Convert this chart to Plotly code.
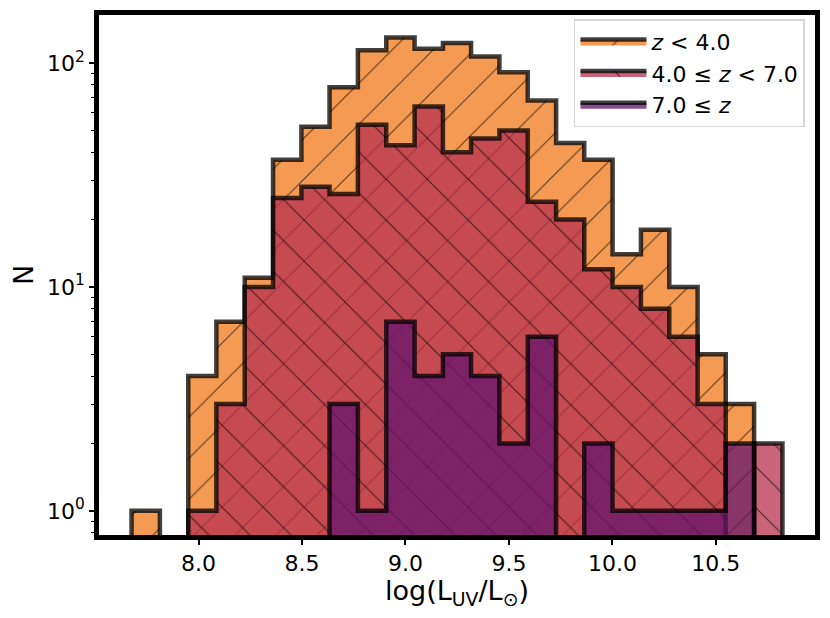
import math
import plotly.graph_objects as go

# histogram bins (log L_UV) shared by all three redshift groups
bin_edges = [7.676, 7.813, 7.950, 8.086, 8.223, 8.360, 8.497, 8.633, 8.770, 8.907,
             9.044, 9.181, 9.317, 9.454, 9.591, 9.728, 9.864, 10.001, 10.138, 10.275,
             10.412, 10.548, 10.685, 10.822]

# counts per bin
n_low = [1, 0, 4, 7, 11, 37, 52, 78, 114, 130, 116, 123, 107, 91, 68, 44, 37, 14, 18, 10, 5, 3, 0]
n_mid = [0, 0, 1, 3, 10, 25, 28, 26, 53, 43, 64, 40, 46, 50, 24, 20, 12, 10, 8, 6, 3, 0, 2]
n_high = [0, 0, 0, 0, 0, 0, 0, 3, 1, 7, 4, 5, 4, 2, 6, 0, 2, 1, 1, 1, 1, 2, 0]

labels = ['<i>z</i> &lt; 4.0', '4.0 ≤ <i>z</i> &lt; 7.0', '7.0 ≤ <i>z</i>']
colors = ['rgba(240,120,24,0.75)', 'rgba(183,48,78,0.75)', 'rgba(100,20,111,0.75)']
hatches = ['/', '\\', '']

x_ticks = [8.0, 8.5, 9.0, 9.5, 10.0, 10.5]
y_ticks = [1, 10, 100]
y_ticktext = ['10<sup>0</sup>', '10<sup>1</sup>', '10<sup>2</sup>']
y_minor = [0.8, 0.9, 2, 3, 4, 5, 6, 7, 8, 9, 20, 30, 40, 50, 60, 70, 80, 90]

FLOOR = 1e-2  # stand-in for zero on the log axis (well below the visible range)


def step_outline(edges, counts):
    # stepfilled histogram polygon, like matplotlib histtype='stepfilled'
    xs, ys = [edges[0]], [FLOOR]
    for i, c in enumerate(counts):
        h = c if c > 0 else FLOOR
        xs += [edges[i], edges[i + 1]]
        ys += [h, h]
    xs.append(edges[-1])
    ys.append(FLOOR)
    return xs, ys


fig = go.Figure()
for counts, name, col, hatch in zip([n_low, n_mid, n_high], labels, colors, hatches):
    xs, ys = step_outline(bin_edges, counts)
    pattern = dict(shape=hatch, size=29, solidity=0.035, fgcolor='black', fgopacity=0.65,
                   bgcolor=col, fillmode='overlay')
    fig.add_trace(go.Scatter(x=xs, y=ys, mode='lines', fill='toself', fillcolor=col,
                             fillpattern=pattern,
                             line=dict(color='rgba(0,0,0,0.75)', width=4.5),
                             name=name, hoverinfo='skip'))

span = bin_edges[-1] - bin_edges[0]
# page body adds an 8px margin, so the figure is a bit smaller than the window
fig.update_layout(
    width=814, height=602,
    margin=dict(l=91, r=4, t=2, b=75),
    paper_bgcolor='white', plot_bgcolor='white',
    font=dict(family='DejaVu Sans', color='black', size=22),
    showlegend=True,
    legend=dict(x=0.986, xanchor='right', y=0.992, yanchor='top',
                bgcolor='rgba(255,255,255,0.8)', bordercolor='#d6d6d6', borderwidth=1.5,
                font=dict(size=22), tracegroupgap=0, itemwidth=66),
    xaxis=dict(range=[bin_edges[0] - 0.05 * span, bin_edges[-1] + 0.05 * span],
               tickvals=x_ticks, ticktext=['%.1f' % v for v in x_ticks],
               ticks='outside', ticklen=5, tickwidth=1.8, tickcolor='black',
               showline=True, linewidth=4.5, linecolor='black', mirror=True,
               showgrid=False, zeroline=False, tickfont=dict(size=22),
               title=dict(text='log(L<sub>UV</sub>/L<sub>⊙</sub>)', font=dict(size=27), standoff=0)),
    yaxis=dict(type='log', range=[math.log10(0.78), math.log10(164)],
               tickvals=y_ticks, ticktext=y_ticktext,
               ticks='outside', ticklen=5, tickwidth=1.8, tickcolor='black',
               minor=dict(tickvals=y_minor, ticks='outside', ticklen=3, tickwidth=1.2, tickcolor='black'),
               showline=True, linewidth=4.5, linecolor='black', mirror=True,
               showgrid=False, zeroline=False, tickfont=dict(size=22),
               title=dict(text='N', font=dict(size=27), standoff=10)),
)

fig.write_html("out.html")
